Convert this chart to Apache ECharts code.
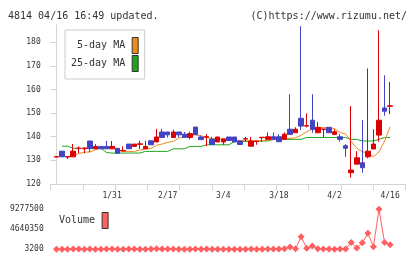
<!DOCTYPE html>
<html><head><meta charset="utf-8">
<script src="https://cdn.jsdelivr.net/npm/echarts@6/dist/echarts.min.js"></script>
<style>html,body{margin:0;padding:0;background:#fff}#c{width:420px;height:259px}</style>
</head><body><div id="c"></div>
<script>
const tickLabels = ['1/31','2/17','3/4','3/18','4/2','4/16'];
const tickIndex = [10,20,30,40,50,60];
const priceTicks = [120,130,140,150,160,170,180];
const volumeTicks = [3200,4640350,9277500];

const opens = [131.4,133.9,131.4,131.5,135.0,134.9,138.2,134.9,135.9,135.9,
 134.9,135.1,134.0,136.9,135.9,136.8,134.9,138.3,137.8,142.0,
 142.0,139.7,142.0,141.1,139.7,144.1,139.9,139.8,139.0,137.8,
 137.8,139.9,139.9,138.2,139.0,136.0,138.0,139.6,138.9,140.0,
 140.0,138.9,143.2,141.7,147.8,144.5,147.0,141.7,143.1,144.0,
 141.0,140.0,136.2,124.8,128.4,129.0,131.5,134.8,140.7,152.2,
 152.9];
const closes = [131.6,131.5,131.6,133.9,135.2,135.2,135.0,135.9,134.9,134.9,
 135.9,133.0,134.2,134.9,136.9,137.0,135.9,136.6,139.9,139.7,
 140.8,142.0,140.8,139.7,141.3,140.9,138.8,140.0,136.7,139.9,
 139.1,138.4,137.8,136.7,139.2,138.2,138.2,139.8,140.0,138.9,
 137.9,141.1,141.0,143.2,144.5,144.7,143.1,144.0,143.3,141.7,
 142.1,138.9,135.1,125.9,131.1,126.9,133.9,136.9,147.0,150.8,
 153.1];
const lows = [131.4,131.5,130.6,131.5,133.1,133.0,133.4,134.9,134.9,134.9,
 134.9,133.0,133.8,134.9,135.9,134.9,134.9,136.6,137.8,139.7,
 139.7,139.7,139.7,139.7,138.9,140.9,138.8,136.0,136.7,137.8,
 136.6,138.4,137.8,136.7,137.8,136.0,136.6,137.9,138.9,138.9,
 137.9,138.9,141.0,141.7,142.8,144.0,141.7,141.7,139.7,141.7,
 141.0,137.9,131.5,122.7,128.4,124.8,130.9,134.8,137.9,148.9,
 149.6];
const highs = [131.6,133.9,131.6,136.9,135.9,135.5,138.2,136.9,135.9,138.2,
 138.2,135.1,135.9,136.9,136.9,138.3,138.3,138.3,143.3,143.3,
 142.0,143.0,142.0,142.0,142.1,144.1,140.5,141.1,140.0,139.9,
 139.1,139.9,139.9,138.2,139.9,139.9,138.2,139.8,141.8,141.8,
 141.1,141.8,158.0,144.0,186.8,149.9,158.0,146.3,143.3,144.0,
 143.2,141.1,136.9,153.0,133.9,147.0,168.9,143.2,185.1,166.0,
 163.2];
const ma5 = [null,null,131.6,131.8,132.9,133.4,133.6,134.5,135.2,135.4,
 135.5,134.5,133.8,133.7,133.8,134.4,134.8,135.1,136.4,136.9,
 137.6,138.0,139.5,140.0,140.8,140.8,140.4,139.8,139.2,139.1,
 139.0,139.0,138.8,138.4,138.3,138.3,138.2,138.3,138.6,138.8,
 138.9,139.1,139.3,139.6,140.6,142.1,143.3,143.8,143.9,143.9,
 143.4,141.8,141.2,138.0,135.1,133.7,133.1,131.5,133.6,138.2,
 144.2];
const ma25 = [null,136.0,136.0,135.1,135.1,135.1,135.1,135.1,135.1,133.3,
 133.1,133.1,133.1,133.1,133.1,133.1,133.8,133.8,133.8,133.8,
 133.8,134.9,134.9,134.9,135.9,135.9,135.9,136.6,136.6,136.6,
 136.6,136.6,138.0,138.0,138.0,138.0,138.0,138.2,138.2,138.9,
 138.9,138.9,138.9,138.9,138.9,139.7,139.7,139.7,139.7,139.7,
 139.7,139.7,139.7,138.9,138.9,138.2,138.2,138.2,138.9,139.7,
 139.7];
const volumes = [42000,35000,28000,61000,47000,39000,72000,33000,25000,51000,
 44000,38000,29000,56000,47000,31000,40000,62000,140000,58000,
 45000,52000,37000,30000,41000,66000,34000,48000,27000,39000,
 3200,36000,29000,43000,25000,47000,31000,38000,52000,90000,
 60000,150000,550000,120000,2900000,230000,760000,150000,45000,60000,
 38000,52000,70000,1600000,300000,1500000,3700000,600000,9277500,1600000,
 1050000];

const FONT = "'DejaVu Sans Mono', monospace";
const xMin = -1.04, xMax = 62.73;
const xTicks = [];
for (let k = 0; k <= 11; k++) xTicks.push(xMin + k * (xMax - xMin) / 11);

const chart = echarts.init(document.getElementById('c'), null, {renderer: 'canvas'});
chart.setOption({
  animation: false,
  backgroundColor: '#fff',
  title: [
    {text: '4814 04/16 16:49 updated.', left: 3, top: 6, textStyle: {fontFamily: FONT, fontSize: 10, fontWeight: 'normal', color: '#333'}},
    {text: '(C)https://www.rizumu.net/', right: 8, top: 6, textStyle: {fontFamily: FONT, fontSize: 10, fontWeight: 'normal', color: '#333'}}
  ],
  legend: [
    {
      data: ['5-day MA', '25-day MA'], orient: 'vertical', left: 65, top: 30, align: 'right',
      icon: 'rect', itemWidth: 6, itemHeight: 16, itemGap: 1, padding: [7, 6, 7, 6],
      backgroundColor: '#fff', borderColor: '#ccc', borderWidth: 1, selectedMode: false,
      itemStyle: {borderColor: '#333', borderWidth: 1},
      textStyle: {fontFamily: FONT, fontSize: 10, color: '#333', padding: [0, 2, 0, 0]}
    },
    {
      data: ['Volume'], orient: 'vertical', left: 59, top: 212, align: 'right',
      icon: 'rect', itemWidth: 6, itemHeight: 16, padding: 0, selectedMode: false,
      itemStyle: {borderColor: '#333', borderWidth: 1},
      textStyle: {fontFamily: FONT, fontSize: 10, color: '#333', padding: [0, 2, 0, 0]}
    }
  ],
  grid: [
    {left: 50.7, right: 14.7, top: 25, height: 159},
    {left: 50.7, right: 14.7, top: 209.3, height: 40}
  ],
  xAxis: [
    {
      type: 'value', gridIndex: 0, min: xMin, max: xMax,
      axisLine: {lineStyle: {color: '#d4d4d4', width: 1}},
      axisTick: {show: true, length: 6, customValues: xTicks, lineStyle: {color: '#d4d4d4'}},
      axisLabel: {customValues: tickIndex, margin: 8, fontFamily: FONT, fontSize: 8, color: '#333',
        formatter: v => tickLabels[tickIndex.indexOf(Math.round(v))] || ''},
      splitLine: {show: false}
    },
    {
      type: 'value', gridIndex: 1, min: xMin, max: xMax, show: false
    }
  ],
  yAxis: [
    {
      type: 'value', gridIndex: 0, min: 120, max: 187.3,
      axisLine: {show: true, lineStyle: {color: '#d4d4d4', width: 1}},
      axisTick: {show: true, length: 6, customValues: priceTicks, lineStyle: {color: '#d4d4d4'}},
      axisLabel: {customValues: priceTicks, margin: 10, fontFamily: FONT, fontSize: 8, color: '#333',
        formatter: v => String(v)},
      splitLine: {show: false}
    },
    {
      type: 'value', gridIndex: 1, min: 3200, max: 9277500,
      axisLine: {show: false}, axisTick: {show: false},
      axisLabel: {customValues: volumeTicks, margin: 7, fontFamily: FONT, fontSize: 8, color: '#333',
        formatter: v => String(Math.round(v))},
      splitLine: {show: false}
    }
  ],
  series: [
    {
      name: '25-day MA', type: 'line', xAxisIndex: 0, yAxisIndex: 0, z: 2,
      data: ma25.map((v, i) => [i, v]), showSymbol: false, symbol: 'none', connectNulls: false,
      color: '#1ea51e', lineStyle: {color: '#1ea51e', width: 1}
    },
    {
      name: '5-day MA', type: 'line', xAxisIndex: 0, yAxisIndex: 0, z: 3,
      data: ma5.map((v, i) => [i, v]), showSymbol: false, symbol: 'none',
      color: '#f08a1a', lineStyle: {color: '#f08a1a', width: 1}
    },
    {
      name: 'price', type: 'candlestick', xAxisIndex: 0, yAxisIndex: 0, z: 5, barWidth: 5,
      data: opens.map((o, i) => [i, o, closes[i], lows[i], highs[i]]),
      itemStyle: {color: '#dd0000', color0: '#4343c3', borderColor: '#dd0000', borderColor0: '#4343c3', borderWidth: 1}
    },
    {
      name: 'Volume', type: 'line', xAxisIndex: 1, yAxisIndex: 1,
      data: volumes.map((v, i) => [i, v]), symbol: 'diamond', symbolSize: 7, showSymbol: true,
      color: '#ff5f5f', lineStyle: {color: '#ff5f5f', width: 1},
      itemStyle: {color: '#ff5f5f'}
    }
  ]
});
</script>
</body></html>
